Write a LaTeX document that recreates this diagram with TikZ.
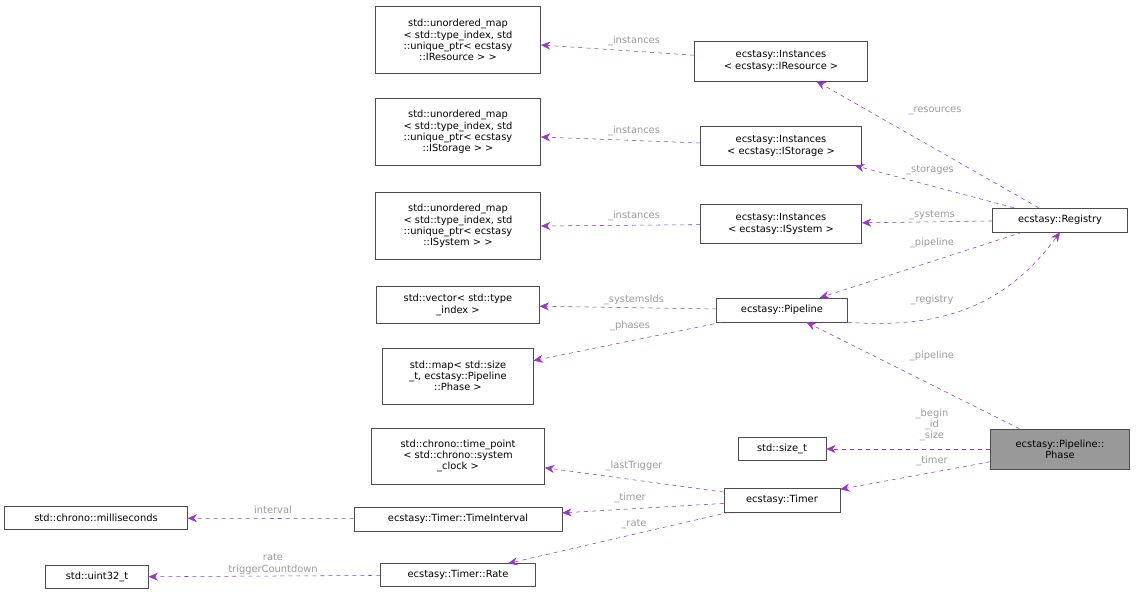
\documentclass[tikz,border=0pt]{standalone}
\usepackage{fontspec}
\setmainfont{DejaVu Sans}
\usetikzlibrary{arrows.meta}
\definecolor{edgecol}{HTML}{9A32CD}
\definecolor{labcol}{HTML}{9A9A9A}
\begin{document}
\begin{tikzpicture}[x=0.75pt, y=-0.75pt, font=\fontsize{7.4}{8.4}\selectfont,
    cls/.style = {draw=black!70, fill=white, align=center, inner sep=2pt},
    rel/.style = {draw=edgecol, dashed, -{Stealth[length=7pt, width=6pt]}},
    lbl/.style = {text=labcol, align=center, inner sep=0pt}]
    \useasboundingbox (0, 0) rectangle (1136, 595);

    \node[cls, minimum width=124pt, minimum height=50pt] (umres) at (458, 40)
        {std::unordered\_map\\< std::type\_index, std\\::unique\_ptr< ecstasy\\::IResource > >};
    \node[cls, minimum width=124pt, minimum height=50pt] (umsto) at (458, 132)
        {std::unordered\_map\\< std::type\_index, std\\::unique\_ptr< ecstasy\\::IStorage > >};
    \node[cls, minimum width=124pt, minimum height=50pt] (umsys) at (458, 226)
        {std::unordered\_map\\< std::type\_index, std\\::unique\_ptr< ecstasy\\::ISystem > >};
    \node[cls, minimum width=122pt, minimum height=28pt] (vec) at (458, 305)
        {std::vector< std::type\\\_index >};
    \node[cls, minimum width=113pt, minimum height=42pt] (map) at (458, 376)
        {std::map< std::size\\\_t, ecstasy::Pipeline\\::Phase >};
    \node[cls, minimum width=130pt, minimum height=42pt] (tp) at (458, 456)
        {std::chrono::time\_point\\< std::chrono::system\\\_clock >};
    \node[cls, minimum width=137pt, minimum height=17pt] (ms) at (96, 518) {std::chrono::milliseconds};
    \node[cls, minimum width=77pt, minimum height=17pt] (u32) at (97, 577) {std::uint32\_t};

    \node[cls, minimum width=130pt, minimum height=30pt] (instres) at (781, 61)
        {ecstasy::Instances\\< ecstasy::IResource >};
    \node[cls, minimum width=121pt, minimum height=29pt] (inststo) at (781, 146)
        {ecstasy::Instances\\< ecstasy::IStorage >};
    \node[cls, minimum width=121pt, minimum height=29pt] (instsys) at (781, 224)
        {ecstasy::Instances\\< ecstasy::ISystem >};
    \node[cls, minimum width=101pt, minimum height=18pt] (reg) at (1060, 220) {ecstasy::Registry};
    \node[cls, minimum width=98pt, minimum height=18pt] (pipe) at (782, 310) {ecstasy::Pipeline};
    \node[cls, minimum width=66pt, minimum height=17pt] (sizet) at (782, 449) {std::size\_t};
    \node[cls, minimum width=87pt, minimum height=18pt] (timer) at (782, 500) {ecstasy::Timer};
    \node[cls, minimum width=156pt, minimum height=18pt] (ti) at (458, 519) {ecstasy::Timer::TimeInterval};
    \node[cls, minimum width=116pt, minimum height=17pt] (rate) at (458, 575) {ecstasy::Timer::Rate};
    \node[cls, fill=black!40, minimum width=104pt, minimum height=30pt] (phase) at (1060, 449)
        {ecstasy::Pipeline::\\Phase};

    % instances
    \draw[rel] (instres) -- (umres.east |- 0, 45);
    \draw[rel] (inststo) -- (umsto.east |- 0, 137);
    \draw[rel] (instsys) -- (umsys.east |- 0, 226);
    \node[lbl] at (634, 41) {\_instances};
    \node[lbl] at (634, 131) {\_instances};
    \node[lbl] at (634, 216) {\_instances};

    % registry
    \draw[rel] (reg) -- (instres);
    \draw[rel] (reg) -- (inststo);
    \draw[rel] (reg) -- (instsys);
    \draw[rel] (reg) -- (pipe);
    \draw[rel] (pipe.south east) .. controls (950, 330) and (1010, 300) .. (reg.south);
    \node[lbl] at (935, 111) {\_resources};
    \node[lbl] at (930, 170) {\_storages};
    \node[lbl] at (932, 215) {\_systems};
    \node[lbl] at (932, 243) {\_pipeline};
    \node[lbl] at (932, 300) {\_registry};

    % pipeline
    \draw[rel] (pipe) -- (vec);
    \draw[rel] (pipe) -- (map);
    \node[lbl] at (634, 300) {\_systemsIds};
    \node[lbl] at (630, 326) {\_phases};

    % phase
    \draw[rel] (phase) -- (pipe);
    \draw[rel] (phase) -- (sizet);
    \draw[rel] (phase) -- (timer);
    \node[lbl] at (932, 356) {\_pipeline};
    \node[lbl] at (932, 425) {\_begin\\\_id\\\_size};
    \node[lbl] at (932, 461) {\_timer};

    % timer
    \draw[rel] (timer) -- (tp);
    \draw[rel] (timer) -- (ti);
    \draw[rel] (timer) -- (rate);
    \draw[rel] (ti) -- (ms);
    \draw[rel] (rate) -- (u32);
    \node[lbl] at (634, 466) {\_lastTrigger};
    \node[lbl] at (630, 498) {\_timer};
    \node[lbl] at (634, 524) {\_rate};
    \node[lbl] at (273, 510) {interval};
    \node[lbl] at (273, 564) {rate\\triggerCountdown};
\end{tikzpicture}
\end{document}
